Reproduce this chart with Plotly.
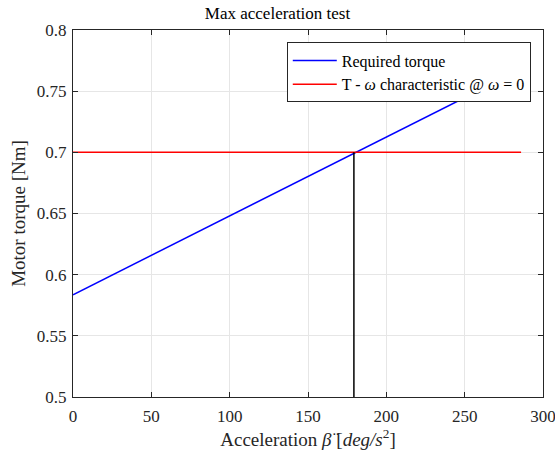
import plotly.graph_objects as go

# Data
accel_req = [0, 286]
torque_req = [0.5836, 0.7678]
accel_char = [0, 286]
torque_char = [0.70, 0.70]
accel_cross = [179.3, 179.3]
torque_cross = [0.5, 0.70]

xticks = [0, 50, 100, 150, 200, 250, 300]
yticks = [0.5, 0.55, 0.6, 0.65, 0.7, 0.75, 0.8]
ytick_text = ["0.5", "0.55", "0.6", "0.65", "0.7", "0.75", "0.8"]

FONT = "Liberation Serif"

fig = go.Figure()
fig.add_trace(go.Scatter(x=accel_req, y=torque_req, mode="lines",
                         line=dict(color="#0000ff", width=1.5),
                         name="Required torque"))
fig.add_trace(go.Scatter(x=accel_char, y=torque_char, mode="lines",
                         line=dict(color="#ff0000", width=1.5),
                         name="T - <i>ω</i> characteristic @ <i>ω</i> = 0"))
fig.add_trace(go.Scatter(x=accel_cross, y=torque_cross, mode="lines",
                         line=dict(color="#000000", width=1.5),
                         showlegend=False))

axis_common = dict(showline=True, linecolor="#262626", linewidth=1,
                   mirror="ticks", ticks="inside", ticklen=5,
                   tickcolor="#262626", showgrid=True, gridcolor="#e6e6e6",
                   gridwidth=1, zeroline=False, automargin=False,
                   ticklabeloverflow="allow",
                   tickfont=dict(family=FONT, size=17, color="#262626"))

fig.update_layout(
    width=555, height=452,
    margin=dict(l=73, r=12, t=30, b=55),
    paper_bgcolor="white", plot_bgcolor="white",
    title=dict(text="Max acceleration test", x=0.5, xanchor="center",
               y=0.972, yanchor="middle",
               font=dict(family=FONT, size=17, color="black")),
    xaxis=dict(range=[0, 300], tickvals=xticks, ticklabelstandoff=4,
               title=dict(text="Acceleration <i>β̈</i> [<i>deg/s</i><sup>2</sup>]",
                          font=dict(family=FONT, size=19, color="#262626"),
                          standoff=2),
               **axis_common),
    yaxis=dict(range=[0.5, 0.8], tickvals=yticks, ticktext=ytick_text,
               ticklabelstandoff=2,
               title=dict(text="Motor torque [Nm]",
                          font=dict(family=FONT, size=19, color="#262626"),
                          standoff=6),
               **axis_common),
    legend=dict(x=0.974, y=0.966, xanchor="right", yanchor="top",
                bgcolor="white", bordercolor="#262626", borderwidth=1,
                font=dict(family=FONT, size=16, color="black"),
                tracegroupgap=0, itemwidth=44),
    showlegend=True,
)

fig.write_html("out.html")
